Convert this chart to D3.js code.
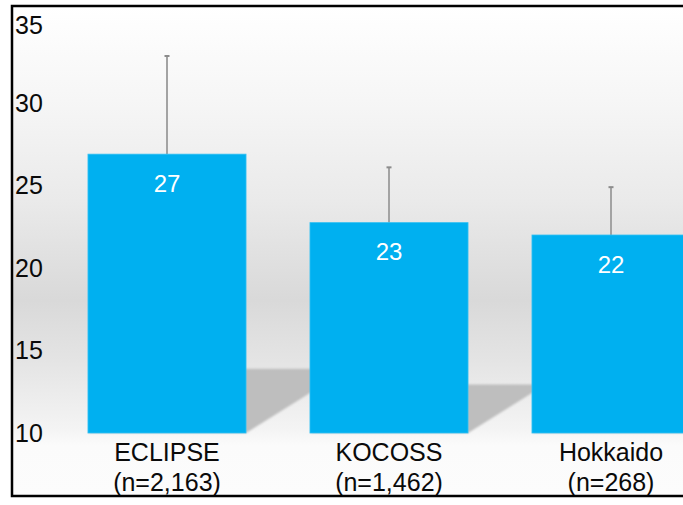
<!DOCTYPE html>
<html>
<head>
<meta charset="utf-8">
<script src="https://cdn.jsdelivr.net/npm/d3@7"></script>
<style>
  body { margin: 0; background: #fff; }
  svg text { font-family: "Liberation Sans", Arial, sans-serif; }
</style>
</head>
<body>
<svg id="chart" width="683" height="505"></svg>
<script>
// data
const cohorts = ["ECLIPSE", "KOCOSS", "Hokkaido"];
const sizes = ["(n=2,163)", "(n=1,462)", "(n=268)"];
const means = [26.9, 22.75, 22.0];
const sdTop = [32.85, 26.1, 24.9];
const valueLabels = ["27", "23", "22"];
const yTicks = [10, 15, 20, 25, 30, 35];

const svg = d3.select("#chart");
const W = 683, H = 505;
const frame = { left: 12, top: 6, bottom: 496 };

const x = d3.scaleBand().domain(cohorts).range([56, 722])
    .paddingInner(0.288).paddingOuter(0.144);
const y = d3.scaleLinear().domain([10, 35]).range([433, 20.5]);

const defs = svg.append("defs");
const grad = defs.append("linearGradient")
    .attr("id", "bg").attr("gradientUnits", "userSpaceOnUse")
    .attr("x1", 0).attr("x2", 0).attr("y1", frame.top).attr("y2", frame.bottom);
[[6, "#ffffff"], [100, "#f6f6f6"], [200, "#eaeaea"], [300, "#d9d9d9"],
 [360, "#e4e4e4"], [430, "#f4f4f4"], [445, "#fbfbfb"], [496, "#fcfcfc"]]
    .forEach(([py, c]) => grad.append("stop")
        .attr("offset", (py - frame.top) / (frame.bottom - frame.top))
        .attr("stop-color", c));

defs.append("filter").attr("id", "soft")
    .attr("x", "-10%").attr("y", "-10%").attr("width", "120%").attr("height", "120%")
    .append("feGaussianBlur").attr("stdDeviation", 1.3);

svg.append("rect")
    .attr("x", frame.left).attr("y", frame.top)
    .attr("width", W - frame.left).attr("height", frame.bottom - frame.top)
    .attr("fill", "url(#bg)");

// floor shadows cast by bars
const base = y(10);
const k = 0.23, skew = 1.6;
svg.append("g").attr("filter", "url(#soft)")
    .selectAll("path").data(cohorts).join("path")
    .attr("fill", "#bebebe")
    .attr("d", (d, i) => {
        const x0 = x(d), x1 = x(d) + x.bandwidth();
        const sh = (base - y(means[i])) * k;
        return `M${x0},${base} L${x1},${base} L${x1 + skew * sh},${base - sh} L${x0 + skew * sh},${base - sh} Z`;
    });

// error bars
const err = svg.append("g");
cohorts.forEach((d, i) => {
    const cx = x(d) + x.bandwidth() / 2;
    err.append("line")
        .attr("x1", cx).attr("x2", cx)
        .attr("y1", y(means[i])).attr("y2", y(sdTop[i]))
        .attr("stroke", "#a3a3a3").attr("stroke-width", 2);
    err.append("line")
        .attr("x1", cx - 2.5).attr("x2", cx + 2.5)
        .attr("y1", y(sdTop[i])).attr("y2", y(sdTop[i]))
        .attr("stroke", "#8c8c8c").attr("stroke-width", 2);
});

// bars
svg.append("g").selectAll("rect").data(cohorts).join("rect")
    .attr("x", d => x(d))
    .attr("y", (d, i) => y(means[i]))
    .attr("width", x.bandwidth())
    .attr("height", (d, i) => base - y(means[i]))
    .attr("fill", "#00b0f0")
    .attr("stroke", "#33c0f3").attr("stroke-width", 0.8);

svg.append("g").selectAll("text").data(cohorts).join("text")
    .attr("x", d => x(d) + x.bandwidth() / 2)
    .attr("y", (d, i) => y(means[i]) + 37.5)
    .attr("text-anchor", "middle")
    .attr("font-size", 24).attr("fill", "#fff")
    .text((d, i) => valueLabels[i]);

// y tick labels
svg.append("g").selectAll("text").data(yTicks).join("text")
    .attr("x", 15)
    .attr("y", d => Math.max(y(d), 25) + 8.5)
    .attr("font-size", 25).attr("fill", "#0a0a0a")
    .text(d => d);

// category labels
const cat = svg.append("g").selectAll("text").data(cohorts).join("text")
    .attr("text-anchor", "middle")
    .attr("font-size", 25).attr("fill", "#0a0a0a");
cat.append("tspan")
    .attr("x", d => x(d) + x.bandwidth() / 2).attr("y", 460.5)
    .text(d => d);
cat.append("tspan")
    .attr("x", d => x(d) + x.bandwidth() / 2).attr("y", 490.5)
    .text((d, i) => sizes[i]);

// frame
svg.append("path")
    .attr("d", `M${W},${frame.top} L${frame.left},${frame.top} L${frame.left},${frame.bottom} L${W},${frame.bottom}`)
    .attr("fill", "none").attr("stroke", "#000").attr("stroke-width", 2.5);
</script>
</body>
</html>
